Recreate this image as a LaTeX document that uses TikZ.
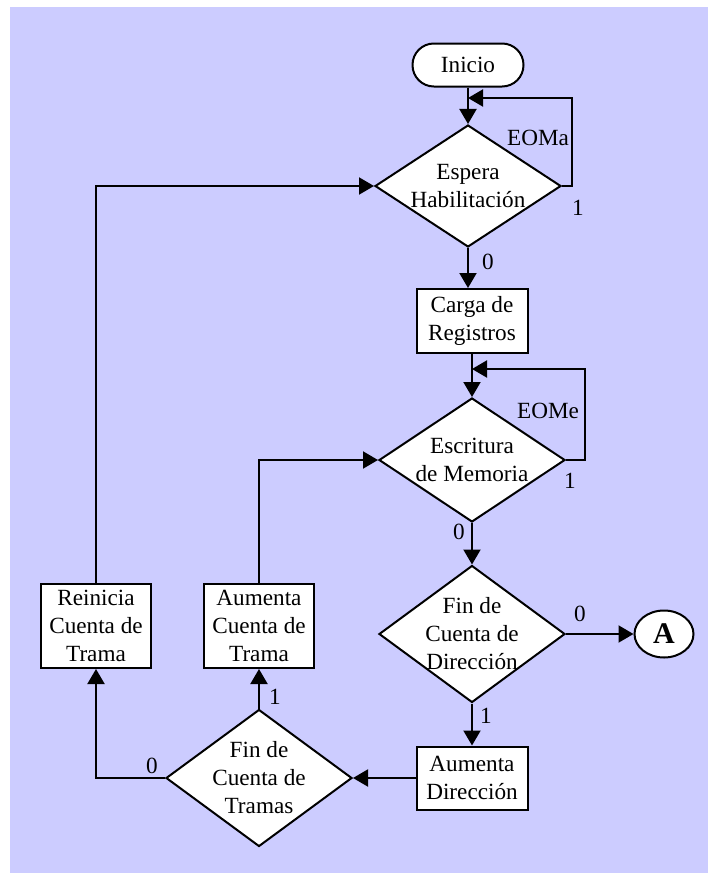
\documentclass[tikz,border=0pt]{standalone}
\usepackage{fontspec}
\setmainfont{Liberation Serif}
\usetikzlibrary{arrows.meta,shapes.geometric}
\definecolor{fondo}{HTML}{CCCCFF}

\begin{document}
\begin{tikzpicture}[x=0.5pt,y=-0.5pt,
  every node/.style={font=\fontsize{11.6}{14}\selectfont},
  caja/.style={rectangle,draw,fill=white,line width=1pt,align=center,inner sep=0pt,minimum width=55.5pt,minimum height=32pt},
  rombo/.style={diamond,draw,fill=white,line width=1pt,align=center,inner sep=-6pt,minimum width=93pt,minimum height=62pt},
  term/.style={rectangle,draw,fill=white,line width=1pt,rounded corners=10.7pt,minimum width=55.5pt,minimum height=21.5pt},
  conec/.style={ellipse,draw,fill=white,line width=1pt,inner sep=0pt,minimum width=29.5pt,minimum height=23.5pt,font=\fontsize{15}{18}\selectfont\bfseries},
  flecha/.style={-{Triangle[length=7.5pt,width=8.5pt]},line width=1pt},
  etq/.style={inner sep=0pt}
]
\useasboundingbox (0,0) rectangle (708,873);
\fill[fondo] (10,7) rectangle (708,873);

% columna principal
\node[term] (ini) at (468,65) {Inicio};
\node[rombo,minimum height=61pt] (espera) at (468,186) {Espera\\Habilitación};
\node[caja] (carga) at (472,321) {Carga de\\Registros};
\node[rombo] (escrit) at (472,460) {Escritura\\de Memoria};
\node[rombo,minimum height=68.5pt] (findir) at (472,634) {Fin de\\Cuenta de\\Dirección};
\node[conec] (fina) at (664,634) {A};
\node[caja,minimum width=55.5pt,minimum height=31.5pt] (aumdir) at (472,778) {Aumenta\\Dirección};

% rama de tramas
\node[rombo,minimum height=68.5pt] (fintr) at (259,778) {Fin de\\Cuenta de\\Tramas};
\node[caja,minimum width=55pt,minimum height=42pt] (aumtr) at (259,626) {Aumenta\\Cuenta de\\Trama};
\node[caja,minimum width=55pt,minimum height=42pt] (reini) at (96,626) {Reinicia\\Cuenta de\\Trama};

% puntos de union de los lazos
\coordinate (j1) at (468,98);
\coordinate (j2) at (472,369);

% conexiones
\draw[flecha] (ini) -- (espera);
\draw[flecha] (espera.east) -- ++(10,0) |- (j1);
\draw[flecha] (espera.south) -- (espera.south |- carga.north);
\draw[flecha] (carga) -- (escrit);
\draw[flecha] (escrit.east) -- ++(19,0) |- (j2);
\draw[flecha] (escrit) -- (findir);
\draw[flecha] (findir) -- (fina);
\draw[flecha] (findir) -- (aumdir);
\draw[flecha] (aumdir) -- (fintr);
\draw[flecha] (fintr) -- (aumtr);
\draw[flecha] (fintr.west) -| (reini.south);
\draw[flecha] (reini.north) |- (espera.west);
\draw[flecha] (aumtr.north) |- (escrit.west);

% etiquetas
\node[etq] (eoma) at (538,138) {EOMa};
\node[etq] (e1a) at (578,208) {1};
\node[etq] (e0a) at (488,262) {0};
\node[etq] (eome) at (548,411) {EOMe};
\node[etq] (e1b) at (570,481) {1};
\node[etq] (e0b) at (459,532) {0};
\node[etq] (e0c) at (580,614) {0};
\node[etq] (e1c) at (486,716) {1};
\node[etq] (e1d) at (275,697) {1};
\node[etq] (e0d) at (152,766) {0};
\end{tikzpicture}
\end{document}
